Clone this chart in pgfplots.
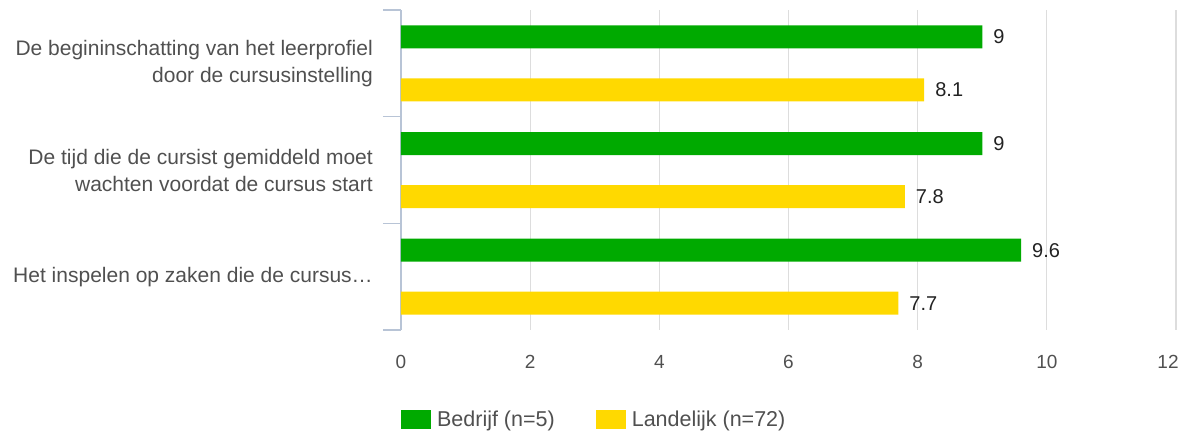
\documentclass[border=0pt]{standalone}
\usepackage{pgfplots}
\pgfplotsset{compat=1.18}
\usepackage{fontspec}
\setmainfont{Liberation Sans}
\definecolor{gbar}{RGB}{0,170,0}
\definecolor{ybar}{RGB}{255,217,0}
\definecolor{axc}{RGB}{184,196,214}
\definecolor{gridc}{RGB}{221,221,221}
\definecolor{txt}{RGB}{80,80,80}
\definecolor{vtxt}{RGB}{34,34,34}
\begin{document}
\begin{tikzpicture}
\useasboundingbox (-401pt,-106pt) rectangle (781pt,330pt);
\begin{axis}[
  at={(0,0)}, anchor=south west,
  scale only axis, width=775pt, height=320pt,
  xbar, bar width=23pt,
  xmin=0, xmax=12, ymin=-0.5, ymax=2.5, y dir=reverse,
  xtick={0,2,...,12},
  xticklabels={0,2,4,6,8,10,{\hspace*{-16pt}12}},
  ytick={0,1,2},
  yticklabels={{De begininschatting van het leerprofiel\\door de cursusinstelling},{De tijd die de cursist gemiddeld moet\\wachten voordat de cursus start},{Het inspelen op zaken die de cursus…}},
  minor ytick={-0.5,0.5,1.5,2.5},
  major tick length=0pt, minor tick length=18pt, tick align=outside,
  tick style={draw=axc, line width=1.2pt},
  axis x line*=bottom, axis y line*=left,
  x axis line style={draw=none},
  y axis line style={-, draw=axc, line width=1.2pt},
  xmajorgrids, grid style={draw=gridc, line width=1.2pt},
  /pgf/number format/assume math mode=true,
  yticklabel style={align=right, font=\fontsize{21}{27}\selectfont, text=txt, inner sep=0pt, xshift=-28pt},
  xticklabel style={font=\fontsize{19}{22}\selectfont, text=txt, inner sep=0pt, yshift=-25pt},
  nodes near coords,
  nodes near coords style={font=\fontsize{20}{24}\selectfont, text=vtxt, anchor=west, inner sep=0pt, xshift=11pt},
  legend style={at={(-0.004,-0.28)}, anchor=west, draw=none, font=\fontsize{21.5}{24}\selectfont, text=txt, nodes={inner sep=0pt},
    /tikz/every odd column/.append style={column sep=6pt},
    /tikz/every even column/.append style={column sep=41pt}},
  legend columns=2, legend cell align=left,
]
\addplot[fill=gbar, draw=none, bar shift=26.5pt, legend image code/.code={\fill[gbar] (0pt,-9.5pt) rectangle (30pt,9.5pt);}] coordinates {(9,0) (9,1) (9.6,2)};
\addlegendentry{Bedrijf (n=5)}
\addplot[fill=ybar, draw=none, bar shift=-26.5pt, legend image code/.code={\fill[ybar] (0pt,-9.5pt) rectangle (30pt,9.5pt);}] coordinates {(8.1,0) (7.8,1) (7.7,2)};
\addlegendentry{Landelijk (n=72)}
\end{axis}
\end{tikzpicture}
\end{document}
